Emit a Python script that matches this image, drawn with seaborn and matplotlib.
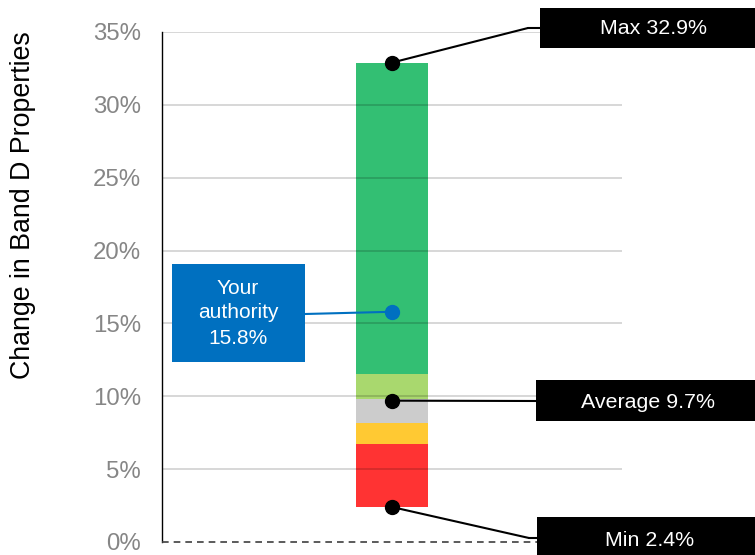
import numpy as np
import pandas as pd
import matplotlib
matplotlib.use("Agg")
import matplotlib.pyplot as plt
import seaborn as sns
from matplotlib.patches import Rectangle, ConnectionPatch

# band segments (top of each coloured band, in %)
band_labels = ["Red", "Amber", "Grey", "Light green", "Green"]
band_tops = [6.7, 8.2, 9.8, 11.5, 32.9]
band_colors = ["#FF3333", "#FFC933", "#CCCCCC", "#A9D86E", "#33BF73"]

min_val = 2.4
avg_val = 9.7
max_val = 32.9
your_val = 15.8
y_ticks = [0, 5, 10, 15, 20, 25, 30, 35]
category = ["Band D"]

sns.set_theme(style="white")
plt.rcParams["font.family"] = ["Liberation Sans", "DejaVu Sans"]

W, H = 755, 555
fig = plt.figure(figsize=(W / 100, H / 100), dpi=100)
ax = fig.add_axes([162 / W, 13 / H, 460 / W, 510 / H])

# tallest band first, each shorter band painted over it
order = sorted(zip(band_labels, band_tops, band_colors), key=lambda t: -t[1])
for lab, top, col in order:
    sns.barplot(x=category, y=[top], color=col, width=0.313, saturation=1,
                linewidth=0, ax=ax, zorder=2)
# blank out below the minimum
sns.barplot(x=category, y=[min_val], color="white", width=0.33, saturation=1,
            linewidth=0, ax=ax, zorder=2.5)

ax.set_xlim(-1, 1)
ax.set_ylim(0, 35)
ax.set_xticks([])
ax.set_xlabel("")

# gridlines on top of the bar, semi transparent
for v in y_ticks[1:]:
    ax.axhline(v, color="black", alpha=0.17, lw=1.3, zorder=3)
ax.plot([-1, 1.6], [0, 0], color="#404040", lw=1.2, ls=(0, (4, 3)),
        clip_on=False, zorder=4)

ax.set_yticks(y_ticks)
ax.set_yticklabels([f"{v}%" for v in y_ticks], fontsize=17.3, color="#868686")
ax.tick_params(axis="y", length=0, pad=15)
for s in ["top", "right", "bottom"]:
    ax.spines[s].set_visible(False)
ax.spines["left"].set_color("black")
ax.spines["left"].set_linewidth(1.0)
ax.set_ylabel("Change in Band D Properties", fontsize=19.3, color="black")
ax.yaxis.label.set_va("center")
ax.yaxis.set_label_coords(-0.302, 0.661)

# marker dots
ax.plot([0, 0, 0], [max_val, avg_val, min_val], "o", color="black", ms=10,
        zorder=6, clip_on=False)
ax.plot([0], [your_val], "o", color="#0070C0", ms=10, zorder=6)


def box(x0, y0, w, h, fc, text, tx, ty, size=15.4, spacing=1.2):
    fig.add_artist(Rectangle((x0 / W, y0 / H), w / W, h / H, transform=fig.transFigure,
                             facecolor=fc, edgecolor="none", zorder=7))
    fig.text(tx / W, ty / H, text, color="white", fontsize=size, ha="center",
             va="center", zorder=8, linespacing=spacing)


def connect(val, px, py, color="black"):
    con = ConnectionPatch(xyA=(0, val), coordsA=ax.transData,
                          xyB=(px, py), coordsB="figure pixels",
                          color=color, lw=1.5, zorder=5)
    fig.add_artist(con)


# max
connect(max_val, 528, 527)
fig.add_artist(plt.Line2D([528 / W, 540 / W], [527 / H, 527 / H], color="black", lw=1.5,
                          transform=fig.transFigure))
box(540, 507, 215, 40, "black", f"Max {max_val}%", 653, 526)

# average
connect(avg_val, 536, 154)
box(536, 134, 219, 41, "black", f"Average {avg_val}%", 648, 153)

# min
connect(min_val, 529, 17)
fig.add_artist(plt.Line2D([529 / W, 537 / W], [17 / H, 17 / H], color="black", lw=1.5,
                          transform=fig.transFigure))
box(537, -5, 218, 43, "black", f"Min {min_val}%", 650, 15)

# your authority
connect(your_val, 305, 241, color="#0070C0")
box(172, 193, 133, 98, "#0070C0", f"Your\nauthority\n{your_val}%", 238, 242,
    size=15, spacing=1.4)

fig.savefig("out.png", dpi=100)
